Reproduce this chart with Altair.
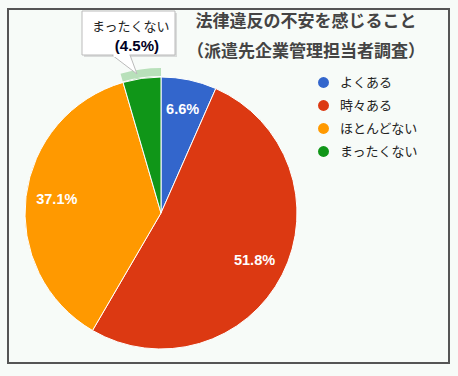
import altair as alt
import pandas as pd

categories = ["よくある", "時々ある", "ほとんどない", "まったくない"]
values = [6.6, 51.8, 37.1, 4.5]
labels = ["6.6%", "51.8%", "37.1%", ""]
colors = ["#3366cc", "#dc3912", "#ff9900", "#109618"]
title_line1 = "法律違反の不安を感じること"
title_line2 = "（派遣先企業管理担当者調査）"
tooltip_name = "まったくない"
tooltip_value = "(4.5%)"

JP = "Noto Sans CJK JP"
LAT = "Liberation Sans"
W, H = 458, 376
cx, cy, R = 161, 213, 136

df = pd.DataFrame({"cat": categories, "val": values, "label": labels,
                   "order": list(range(len(categories)))})
one = pd.DataFrame({"a": [0]})

base = alt.Chart(df).encode(
    theta=alt.Theta("val:Q", stack=True),
    order=alt.Order("order:Q"),
)

frame = alt.Chart(one).mark_rect(fill="transparent", stroke="#555555", strokeWidth=2).encode(
    x=alt.value(8), x2=alt.value(449), y=alt.value(9), y2=alt.value(363))

ring = base.mark_arc(radius=145, radius2=137).encode(
    x=alt.value(cx), y=alt.value(cy),
    fill=alt.condition(alt.datum.cat == tooltip_name, alt.value("#b8e0ba"), alt.value("transparent")),
)

pie = base.mark_arc(outerRadius=R, stroke="white", strokeWidth=1).encode(
    x=alt.value(cx), y=alt.value(cy),
    color=alt.Color("cat:N", scale=alt.Scale(domain=categories, range=colors),
                    legend=alt.Legend(title=None, orient="none", legendX=317, legendY=76,
                                      symbolType="circle", symbolSize=120, symbolStrokeWidth=0,
                                      labelFont=JP, labelFontSize=13, labelColor="#222222",
                                      labelOffset=10, rowPadding=9, padding=0)),
)

pct = base.mark_text(radius=105, fill="white", font=LAT, fontSize=14.5, fontWeight="bold").encode(
    x=alt.value(cx), y=alt.value(cy), text="label:N")

t1 = alt.Chart(one).mark_text(text=title_line1, font=JP, fontSize=17, fontWeight="bold",
                              fill="#444444", align="center", baseline="middle").encode(
    x=alt.value(306), y=alt.value(22))
t2 = alt.Chart(one).mark_text(text=title_line2, font=JP, fontSize=17, fontWeight="bold",
                              fill="#444444", align="center", baseline="middle").encode(
    x=alt.value(306), y=alt.value(52))

shadow = alt.Chart(one).mark_rect(fill="#bbbbbb", opacity=0.5).encode(
    x=alt.value(84), x2=alt.value(177), y=alt.value(13), y2=alt.value(57))
pointer = alt.Chart(one).mark_point(shape="M -1 -0.76 L 0.44 -0.76 L 1 0.76 Z", size=625,
                                    filled=True, fill="white", stroke="#bbbbbb", strokeWidth=1,
                                    opacity=1).encode(x=alt.value(124.5), y=alt.value(64.5))
box = alt.Chart(one).mark_rect(fill="white", stroke="#bbbbbb", strokeWidth=1).encode(
    x=alt.value(82), x2=alt.value(175), y=alt.value(11), y2=alt.value(55))
cover = alt.Chart(one).mark_rect(fill="white").encode(
    x=alt.value(113.5), x2=alt.value(129.5), y=alt.value(53), y2=alt.value(57))
tt1 = alt.Chart(one).mark_text(text=tooltip_name, font=JP, fontSize=13, fill="#222222",
                               align="left", baseline="middle").encode(x=alt.value(92), y=alt.value(27))
tt2 = alt.Chart(one).mark_text(text=tooltip_value, font=LAT, fontSize=15, fontWeight="bold",
                               fill="#000022", align="right", baseline="middle").encode(
    x=alt.value(159), y=alt.value(46))

chart = alt.layer(frame, ring, pie, pct, t1, t2, shadow, pointer, box, cover, tt1, tt2).properties(
    width=W, height=H, autosize=alt.AutoSizeParams(type="none"), padding=0,
    background="#f7fbf8",
).configure_view(stroke=None)

chart.save("out.html", embed_options={"renderer": "svg", "actions": False})
